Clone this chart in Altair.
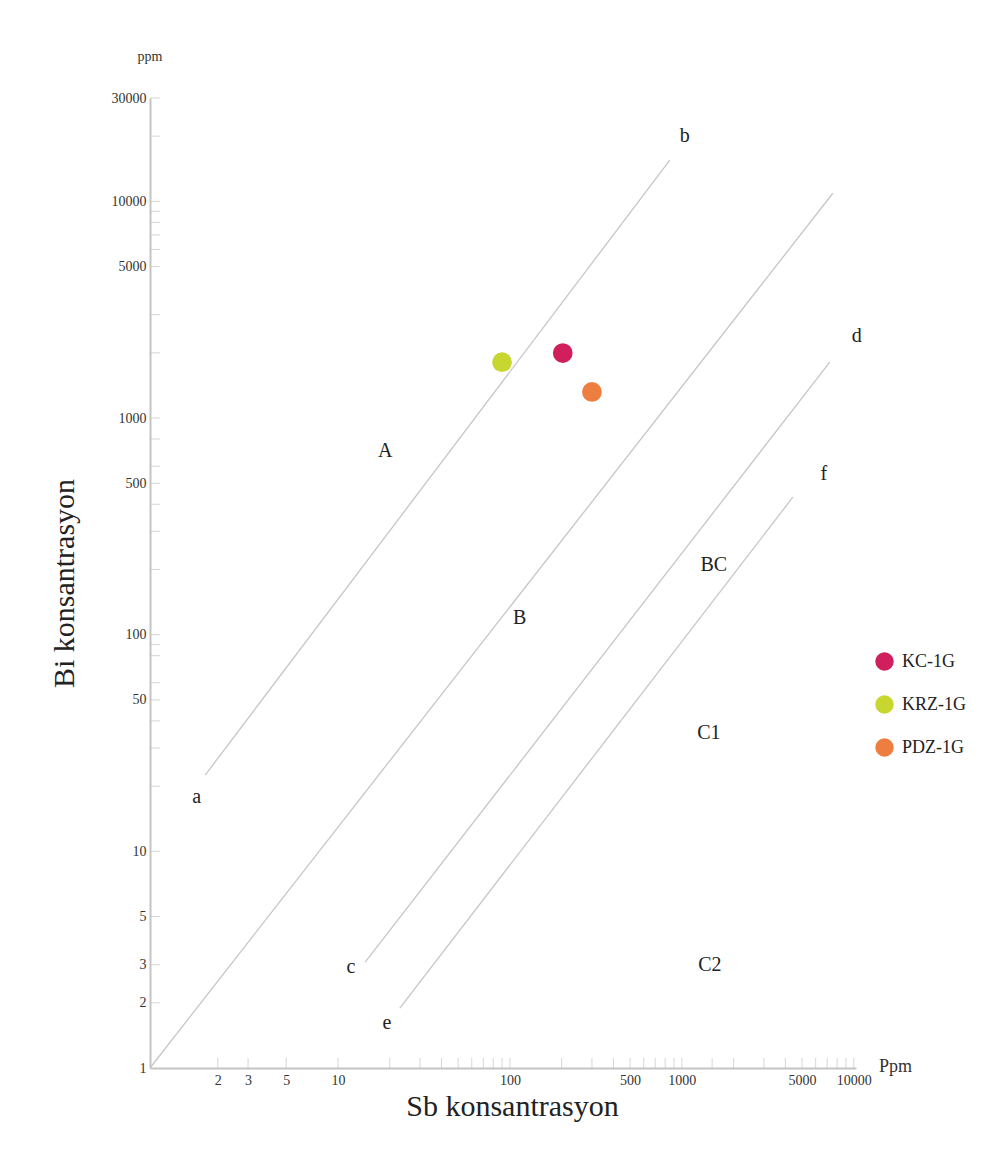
import altair as alt
import pandas as pd

# ---- data ----
samples = ["KC-1G", "KRZ-1G", "PDZ-1G"]
sb_values = [203, 90, 300]
bi_values = [1995, 1810, 1320]
sample_colors = ["#d01f5c", "#c8d630", "#ee7e40"]

line_ids = ["ab", "ab", "oo", "oo", "cd", "cd", "ef", "ef"]
line_x = [1.69, 851, 0.807, 7550, 14.4, 7250, 22.9, 4420]
line_y = [22.5, 15500, 1, 10900, 3.08, 1811, 1.89, 431]

label_text = ["a", "b", "c", "d", "e", "f", "A", "B", "BC", "C1", "C2"]
label_x = [1.51, 1040, 11.9, 10400, 19.3, 6700, 18.8, 114, 1535, 1435, 1455]
label_y = [17.8, 20000, 2.92, 2388, 1.61, 551, 703, 119, 209, 35.2, 2.99]

x_major = [2, 3, 5, 10, 100, 500, 1000, 5000, 10000]
x_minor = [20, 30, 40, 50, 60, 70, 80, 90, 200, 300, 400, 600, 700, 800, 900,
           1500, 2000, 3000, 4000, 6000, 7000, 8000, 9000]
y_major = [1, 2, 3, 5, 10, 50, 100, 500, 1000, 5000, 10000, 30000]
y_minor = [20, 30, 40, 60, 80, 90, 200, 300, 400, 600, 800, 2000, 3000,
           6000, 7000, 8000, 9000, 20000]

FONT = "Liberation Serif"
W, H = 706, 970

xs = alt.Scale(type="log", domain=[0.807, 10300])
ys = alt.Scale(type="log", domain=[1, 30000])

xa = alt.Axis(values=x_major, format="d", ticks=False, grid=False,
              domainColor="#c4c4c4", domainWidth=2,
              labelFont=FONT, labelFontSize=14, labelColor="#333",
              labelPadding=5, labelFlush=False,
              title="Sb konsantrasyon", titleFont=FONT, titleFontSize=30,
              titleFontWeight="normal", titleColor="#222", titlePadding=4,
              titleX=362)
ya = alt.Axis(values=y_major, format="d", ticks=False, grid=False,
              domainColor="#c4c4c4", domainWidth=2,
              labelFont=FONT, labelFontSize=14, labelColor="#333",
              labelPadding=4, labelFlush=False,
              title="Bi konsantrasyon", titleFont=FONT, titleFontSize=30,
              titleFontWeight="normal", titleColor="#222", titlePadding=32)

def X(field):
    return alt.X(f"{field}:Q", scale=xs, axis=xa)

def Y(field):
    return alt.Y(f"{field}:Q", scale=ys, axis=ya)

lines_df = pd.DataFrame({"id": line_ids, "x": line_x, "y": line_y})
lines = alt.Chart(lines_df).mark_line(color="#c6c6c6", strokeWidth=1.3).encode(
    x=X("x"), y=Y("y"), detail="id:N")

pts_df = pd.DataFrame({"sample": samples, "x": sb_values, "y": bi_values})
points = alt.Chart(pts_df).mark_circle(size=390, opacity=1).encode(
    x=X("x"), y=Y("y"),
    color=alt.Color("sample:N", scale=alt.Scale(domain=samples, range=sample_colors),
                    legend=alt.Legend(orient="none", legendX=725, legendY=554,
                                      title=None, labelFont=FONT, labelFontSize=18,
                                      labelColor="#222", symbolSize=340,
                                      symbolType="circle", symbolStrokeWidth=0,
                                      rowPadding=24, labelOffset=8)))

lab_df = pd.DataFrame({"t": label_text, "x": label_x, "y": label_y})
labels = alt.Chart(lab_df).mark_text(font=FONT, fontSize=20, color="#222").encode(
    x=X("x"), y=Y("y"), text="t:N")

xt_df = pd.DataFrame({"x": x_major + x_minor})
xticks = alt.Chart(xt_df).mark_tick(orient="vertical", size=10, thickness=1,
                                    color="#c4c4c4").encode(
    x=X("x"), y=alt.value(H - 5))

yt_df = pd.DataFrame({"y": y_major[1:] + y_minor})
yticks = alt.Chart(yt_df).mark_tick(orient="horizontal", size=10, thickness=1,
                                    color="#c4c4c4").encode(
    y=Y("y"), x=alt.value(5))

unit_df = pd.DataFrame({"t": ["ppm"]})
unit_y = alt.Chart(unit_df).mark_text(font=FONT, fontSize=14, color="#333").encode(
    text="t:N", x=alt.value(0), y=alt.value(-41))
unit_df2 = pd.DataFrame({"t": ["Ppm"]})
unit_x = alt.Chart(unit_df2).mark_text(font=FONT, fontSize=18, color="#333",
                                       align="left").encode(
    text="t:N", x=alt.value(729), y=alt.value(969))

chart = alt.layer(lines, xticks, yticks, labels, points, unit_y, unit_x).properties(
    width=W, height=H,
    padding={"left": 142, "top": 90, "right": 140, "bottom": 81},
    autosize=alt.AutoSizeParams(type="none"),
).configure(background="white").configure_view(strokeWidth=0, stroke="transparent")

chart.save("out.html", embed_options={"renderer": "svg", "actions": False})
